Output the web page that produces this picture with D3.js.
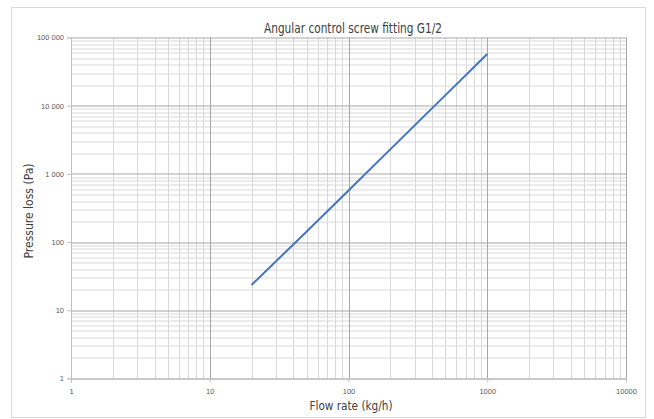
<!DOCTYPE html>
<html>
<head>
<meta charset="utf-8">
<script src="https://cdn.jsdelivr.net/npm/d3@7"></script>
<style>
    body { margin: 0; background: #fff; }
    text { font-family: "DejaVu Sans", sans-serif; font-stretch: condensed; }
</style>
</head>
<body>
<svg id="chart" width="654" height="419"></svg>
<script>
/**
 * Data.
 */
const flowRate = [20, 50, 100, 200, 500, 1000]; // kg/h
const pressureLoss = [23.5, 143, 570, 2290, 14300, 57300]; // Pa
const xTickValues = [1, 10, 100, 1000, 10000];
const xTickLabels = ['1', '10', '100', '1000', '10000'];
const yTickValues = [1, 10, 100, 1000, 10000, 100000];
const yTickLabels = ['1', '10', '100', '1 000', '10 000', '100 000'];

/**
 * Visual configs.
 */
const margin = { top: 37.5, right: 28, bottom: 40.5, left: 71 },
    visWidth = 654, visHeight = 419,
    width = visWidth - margin.left - margin.right,
    height = visHeight - margin.top - margin.bottom;

const svg = d3.select('#chart');

// Chart frame
svg.append('rect')
    .attr('x', 11.5).attr('y', 7.5)
    .attr('width', 634).attr('height', 410)
    .attr('fill', '#fff').attr('stroke', '#d9d9d9');

const g = svg.append('g').attr('transform', 'translate(' + margin.left + ',' + margin.top + ')');

const xScale = d3.scaleLog().domain([1, 10000]).range([0, width]);
const yScale = d3.scaleLog().domain([1, 100000]).range([height, 0]);

// Minor values (2..9 of each decade)
function minors(domain) {
    const out = [];
    for (let d = domain[0]; d < domain[1]; d *= 10) {
        for (let k = 2; k <= 9; k++) out.push(d * k);
    }
    return out;
}

// Minor grid
g.append('g').selectAll('line').data(minors(xScale.domain())).join('line')
    .attr('x1', d => Math.round(xScale(d)) + 0.5).attr('x2', d => Math.round(xScale(d)) + 0.5)
    .attr('y1', 0).attr('y2', height)
    .attr('stroke', '#d9d9d9');
g.append('g').selectAll('line').data(minors(yScale.domain())).join('line')
    .attr('y1', d => Math.round(yScale(d)) + 0.5).attr('y2', d => Math.round(yScale(d)) + 0.5)
    .attr('x1', 0).attr('x2', width)
    .attr('stroke', '#d9d9d9');

// Major grid
g.append('g').selectAll('line').data(xTickValues).join('line')
    .attr('x1', d => Math.round(xScale(d)) + 0.5).attr('x2', d => Math.round(xScale(d)) + 0.5)
    .attr('y1', 0).attr('y2', height)
    .attr('stroke', '#a6a6a6');
g.append('g').selectAll('line').data(yTickValues).join('line')
    .attr('y1', d => Math.round(yScale(d)) + 0.5).attr('y2', d => Math.round(yScale(d)) + 0.5)
    .attr('x1', 0).attr('x2', width)
    .attr('stroke', '#a6a6a6');

// Axes
const xAxis = g.append('g').attr('transform', 'translate(0,' + height + ')')
    .call(d3.axisBottom(xScale).tickValues(xTickValues)
        .tickFormat((d, i) => xTickLabels[i]).tickSize(4).tickPadding(6));
const yAxis = g.append('g')
    .call(d3.axisLeft(yScale).tickValues(yTickValues)
        .tickFormat((d, i) => yTickLabels[i]).tickSize(4).tickPadding(3));

[xAxis, yAxis].forEach(a => {
    a.select('.domain').attr('stroke', '#bfbfbf');
    a.selectAll('.tick line').attr('stroke', '#bfbfbf');
    a.selectAll('.tick text').attr('fill', '#595959').style('font-size', '7.5px')
        .style('font-family', '"Liberation Sans", sans-serif').style('font-stretch', 'normal');
});

// Series
g.append('path')
    .datum(flowRate.map((f, i) => [f, pressureLoss[i]]))
    .attr('fill', 'none')
    .attr('stroke', '#4472c4')
    .attr('stroke-width', 2)
    .attr('d', d3.line().x(d => xScale(d[0])).y(d => yScale(d[1])));

// Titles
svg.append('text')
    .attr('x', 353).attr('y', 33)
    .attr('text-anchor', 'middle')
    .attr('fill', '#404040')
    .style('font-size', '14px')
    .attr('textLength', 178).attr('lengthAdjust', 'spacingAndGlyphs')
    .text('Angular control screw fitting G1/2');

svg.append('text')
    .attr('x', 351).attr('y', 410)
    .attr('text-anchor', 'middle')
    .attr('fill', '#404040')
    .style('font-size', '13px')
    .attr('textLength', 83).attr('lengthAdjust', 'spacingAndGlyphs')
    .text('Flow rate (kg/h)');

svg.append('text')
    .attr('transform', 'translate(33,211) rotate(-90)')
    .attr('text-anchor', 'middle')
    .attr('fill', '#404040')
    .style('font-size', '13px')
    .attr('textLength', 95).attr('lengthAdjust', 'spacingAndGlyphs')
    .text('Pressure loss (Pa)');
</script>
</body>
</html>
